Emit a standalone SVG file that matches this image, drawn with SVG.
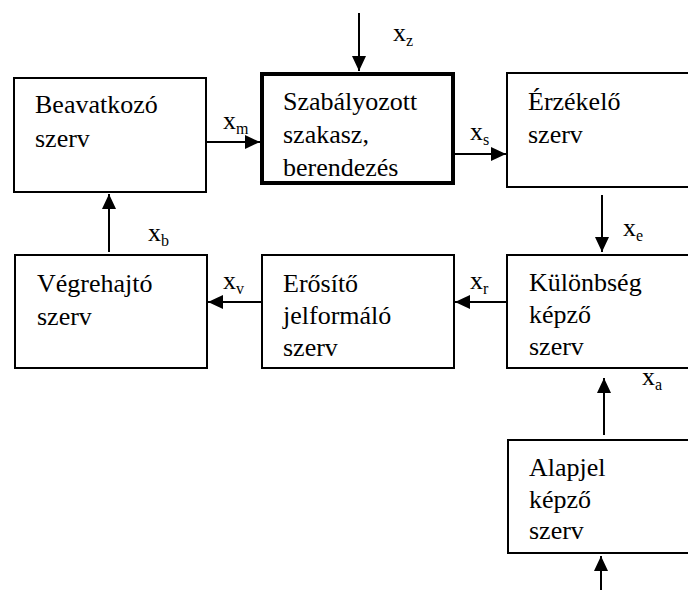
<svg xmlns="http://www.w3.org/2000/svg" width="688" height="590" viewBox="0 0 688 590">
<style>
  .box { fill: #ffffff; stroke: #000000; stroke-width: 2; }
  .thick { stroke-width: 4; }
  .t { font-family: "Liberation Serif", "Times New Roman", serif; font-size: 26px; fill: #000000; }
  .sub { font-size: 16px; }
  .conn line { stroke: #000000; stroke-width: 2; marker-end: url(#arr); }
</style>
<defs>
  <marker id="arr" markerUnits="userSpaceOnUse" markerWidth="16" markerHeight="16" refX="15" refY="7" orient="auto">
    <path d="M0,0 L15,7 L0,14 z" fill="#000000"/>
  </marker>
</defs>
<rect width="688" height="590" fill="#ffffff"/>

<g class="t">
<g id="beavatkozo">
  <rect class="box" x="14" y="78" width="192" height="114"/>
  <text x="35" y="113">Beavatkozó</text>
  <text x="35" y="147">szerv</text>
</g>
<g id="szabalyozott">
  <rect class="box thick" x="262" y="74" width="191" height="109"/>
  <text x="283" y="110">Szabályozott</text>
  <text x="283" y="143">szakasz,</text>
  <text x="283" y="176">berendezés</text>
</g>
<g id="erzekelo">
  <rect class="box" x="507" y="73" width="200" height="114"/>
  <text x="528" y="110">Érzékelő</text>
  <text x="528" y="143">szerv</text>
</g>
<g id="vegrehajto">
  <rect class="box" x="15" y="255" width="192" height="113"/>
  <text x="37" y="292">Végrehajtó</text>
  <text x="37" y="325">szerv</text>
</g>
<g id="erosito">
  <rect class="box" x="262" y="255" width="192" height="113"/>
  <text x="283" y="292">Erősítő</text>
  <text x="283" y="324">jelformáló</text>
  <text x="283" y="356">szerv</text>
</g>
<g id="kulonbseg">
  <rect class="box" x="507" y="255" width="200" height="113"/>
  <text x="529" y="291">Különbség</text>
  <text x="529" y="323">képző</text>
  <text x="529" y="355">szerv</text>
</g>
<g id="alapjel">
  <rect class="box" x="508" y="440" width="200" height="113"/>
  <text x="529" y="476">Alapjel</text>
  <text x="529" y="508">képző</text>
  <text x="529" y="539">szerv</text>
</g>

<g id="connectors" class="conn">
  <line x1="359" y1="13" x2="359" y2="71"/>
  <line x1="206" y1="142" x2="260" y2="142"/>
  <line x1="454" y1="154" x2="506" y2="154"/>
  <line x1="602" y1="195" x2="602" y2="252"/>
  <line x1="507" y1="302" x2="455" y2="302"/>
  <line x1="262" y1="302" x2="208" y2="302"/>
  <line x1="109" y1="252" x2="109" y2="194"/>
  <line x1="604" y1="435" x2="604" y2="378"/>
  <line x1="601" y1="590" x2="601" y2="556"/>
</g>

<g id="labels">
  <text x="393" y="41">x<tspan class="sub" dy="5">z</tspan></text>
  <text x="223" y="129">x<tspan class="sub" dy="5">m</tspan></text>
  <text x="470" y="140">x<tspan class="sub" dy="5">s</tspan></text>
  <text x="623" y="236">x<tspan class="sub" dy="5">e</tspan></text>
  <text x="470" y="289">x<tspan class="sub" dy="5">r</tspan></text>
  <text x="223" y="289">x<tspan class="sub" dy="5">v</tspan></text>
  <text x="148" y="241">x<tspan class="sub" dy="5">b</tspan></text>
  <text x="642" y="385">x<tspan class="sub" dy="5">a</tspan></text>
</g>
</g>
</svg>
